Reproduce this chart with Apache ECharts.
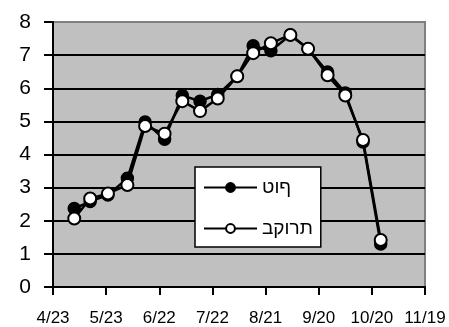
<!DOCTYPE html>
<html>
<head>
<meta charset="utf-8">
<script src="https://cdn.jsdelivr.net/npm/echarts@6/dist/echarts.min.js"></script>
<style>
  html, body { margin: 0; padding: 0; background: #fff; }
  #chart { width: 449px; height: 327px; }
</style>
</head>
<body>
<div id="chart"></div>
<script>
// Sampling dates (month/day) and readings for the two substrates
const sampleDates = ['5/5', '5/14', '5/24', '6/4', '6/14', '6/25', '7/5', '7/15', '7/25',
                     '8/5', '8/14', '8/24', '9/4', '9/14', '9/25', '10/5', '10/15', '10/25'];
const tuffValues = [2.37, 2.58, 2.78, 3.28, 4.98, 4.46, 5.78, 5.61, 5.81,
                    6.36, 7.28, 7.13, 7.61, 7.19, 6.49, 5.86, 4.38, 1.30];
const controlValues = [2.07, 2.67, 2.82, 3.08, 4.86, 4.63, 5.61, 5.31, 5.69,
                       6.36, 7.06, 7.36, 7.61, 7.19, 6.39, 5.78, 4.44, 1.42];
const seriesNames = ['טוף', 'בקורת'];
const axisStartDate = '4/23';   // first x tick; ticks every 30 days
const axisStepDays = 30;
const axisSpanDays = 210;        // last tick 11/19
const yTicks = [0, 1, 2, 3, 4, 5, 6, 7, 8];

const YEAR = 2001;
const DAY = 86400000;
function toUTC(md) {
  const [m, d] = md.split('/').map(Number);
  return Date.UTC(YEAR, m - 1, d);
}
const base = toUTC(axisStartDate);
function dayOffset(md) { return Math.round((toUTC(md) - base) / DAY); }
function offsetLabel(days) {
  const dt = new Date(base + days * DAY);
  return (dt.getUTCMonth() + 1) + '/' + dt.getUTCDate();
}

// Legend labels are printed with their letters running left to right,
// so the characters are fed to the RTL canvas in reverse order.
const visualLTR = s => Array.from(s).reverse().join('');

const tuffData = sampleDates.map((d, i) => [dayOffset(d), tuffValues[i]]);
const controlData = sampleDates.map((d, i) => [dayOffset(d), controlValues[i]]);

const font = "'Liberation Sans', Arial, sans-serif";

const chart = echarts.init(document.getElementById('chart'), null, { renderer: 'canvas' });
chart.setOption({
  animation: false,
  backgroundColor: '#ffffff',
  grid: {
    left: 53, right: 24, top: 22, bottom: 38,
    show: true,
    backgroundColor: '#c0c0c0',
    borderColor: '#808080',
    borderWidth: 2
  },
  xAxis: {
    type: 'value',
    min: 0,
    max: axisSpanDays,
    interval: axisStepDays,
    axisLine: { show: true, onZero: false, lineStyle: { color: '#000', width: 2 } },
    axisTick: { show: true, inside: false, length: 8, lineStyle: { color: '#000', width: 2 } },
    axisLabel: {
      color: '#000', fontFamily: font, fontSize: 17, margin: 23,
      formatter: v => offsetLabel(v)
    },
    splitLine: { show: false }
  },
  yAxis: {
    type: 'value',
    min: yTicks[0],
    max: yTicks[yTicks.length - 1],
    interval: 1,
    axisLine: { show: true, lineStyle: { color: '#000', width: 2 } },
    axisTick: { show: true, inside: false, length: 9, lineStyle: { color: '#000', width: 2 } },
    axisLabel: { color: '#000', fontFamily: font, fontSize: 21, margin: 22 },
    splitLine: {
      show: true,
      lineStyle: {
        color: yTicks.map((t, i) => (i === yTicks.length - 1 ? '#808080' : '#000000')),
        width: 2
      }
    }
  },
  legend: {
    orient: 'vertical',
    left: 195,
    top: 167,
    backgroundColor: '#ffffff',
    borderColor: '#000000',
    borderWidth: 1.5,
    borderRadius: 0,
    padding: [11, 8, 9, 8],
    itemWidth: 53,
    itemHeight: 11,
    itemGap: 22,
    textStyle: { color: '#000', fontFamily: font, fontSize: 19 },
    formatter: name => visualLTR(name),
    data: seriesNames
  },
  series: [
    {
      name: seriesNames[0],
      type: 'line',
      smooth: false,
      data: tuffData,
      symbol: 'circle',
      symbolSize: 12,
      lineStyle: { color: '#000', width: 2.5 },
      itemStyle: { color: '#000', borderColor: '#000', borderWidth: 1.5 },
      z: 2
    },
    {
      name: seriesNames[1],
      type: 'line',
      smooth: false,
      data: controlData,
      symbol: 'circle',
      symbolSize: 12,
      lineStyle: { color: '#000', width: 2.5 },
      itemStyle: { color: '#fff', borderColor: '#000', borderWidth: 2 },
      z: 3
    }
  ]
});
</script>
</body>
</html>
